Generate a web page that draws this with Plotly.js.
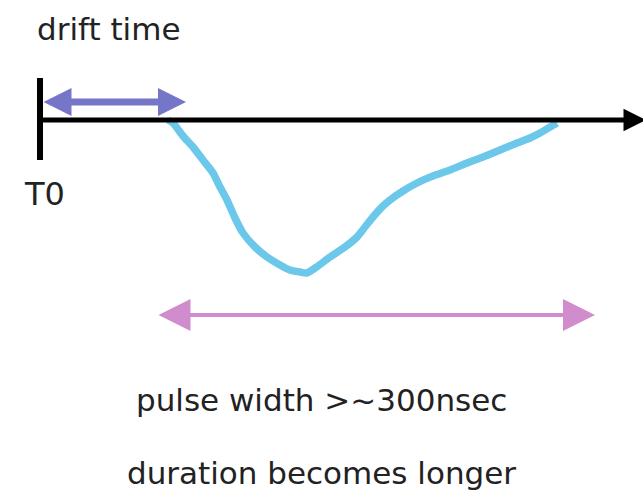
<!DOCTYPE html>
<html><head><meta charset="utf-8">
<script src="https://cdn.plot.ly/plotly-3.0.1.min.js"></script>
<style>html,body{margin:0;padding:0;background:#fff}#c{width:643px;height:502px}</style>
</head><body><div id="c"></div>
<script>
// Diagram frame: x = horizontal position, y = vertical position (down positive)
const pulseX = [168,173,183,193,203,213,220,227,235,243,255,267,280,290,300,307,318,330,345,357,365,373,382,390,403,417,433,450,467,483,500,517,530,540,550,557];
const pulseY = [120,123,136,147,160,173,187,200,218,233,247,257,265,270,272,273,266,257,247,237,227,217,207,200,191,183,176,170,163,157,150,143,138,133,127,123];
const baselineX = [40, 646];
const baselineY = [120, 120];
const t0X = [40, 40];
const t0Y = [78, 160];
const driftX = [42, 186];
const driftY = [102, 102];
const widthX = [157, 595];
const widthY = [315, 315];
const labels = ["drift time", "T0", "pulse width >~300nsec", "duration becomes longer"];
const labelX = [108, 44, 321, 321];
const labelY = [29, 194, 400, 473];

const font = "'DejaVu Sans', sans-serif";
const traces = [
  {x: pulseX, y: pulseY, mode: 'lines', line: {color: '#6cc8ea', width: 7.5, shape: 'spline', smoothing: 0.6}, hoverinfo: 'skip'},
  {x: t0X, y: t0Y, mode: 'lines', line: {color: '#000', width: 6}, hoverinfo: 'skip'}
];
function arrow(xs, ys, color, w, size, both) {
  return {x: xs[1], y: ys[1], ax: xs[0], ay: ys[0], xref: 'x', yref: 'y', axref: 'x', ayref: 'y',
    showarrow: true, text: '', arrowhead: 2, startarrowhead: 2, arrowside: both ? 'end+start' : 'end',
    arrowwidth: w, arrowsize: size, startarrowsize: size, arrowcolor: color};
}
const annotations = [
  arrow(baselineX, baselineY, '#000', 5, 0.9, false),
  arrow(driftX, driftY, '#7676c8', 7, 0.8, true),
  arrow(widthX, widthY, '#d08ccc', 4, 1.6, true)
];
labels.forEach((t, i) => annotations.push({x: labelX[i], y: labelY[i], xref: 'x', yref: 'y', text: t, showarrow: false,
  font: {family: font, size: i === 1 ? 32 : 31, color: '#222'}, xanchor: 'center', yanchor: 'middle'}));

Plotly.newPlot('c', traces, {
  width: 643, height: 502, margin: {l: 0, r: 0, t: 0, b: 0},
  paper_bgcolor: '#fff', plot_bgcolor: '#fff', showlegend: false,
  xaxis: {range: [0, 643], visible: false, fixedrange: true},
  yaxis: {range: [502, 0], visible: false, fixedrange: true},
  annotations: annotations
}, {staticPlot: true});
</script></body></html>
